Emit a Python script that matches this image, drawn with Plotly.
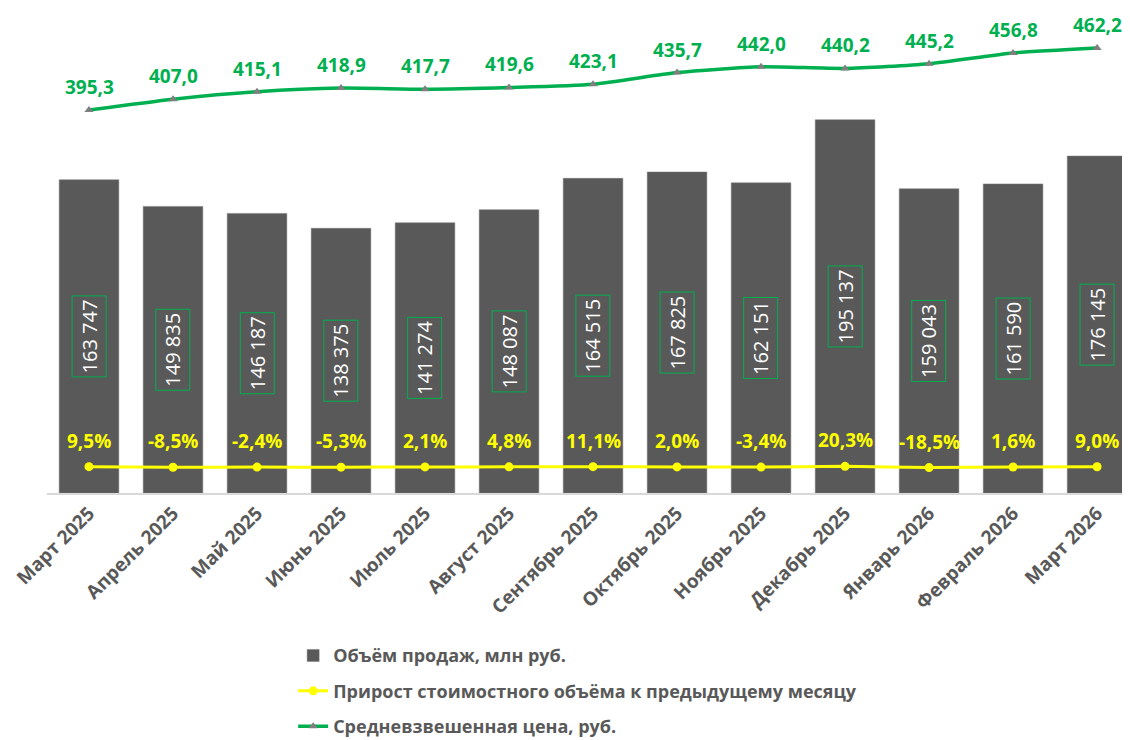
import plotly.graph_objects as go

months = ["Март 2025", "Апрель 2025", "Май 2025", "Июнь 2025", "Июль 2025", "Август 2025",
          "Сентябрь 2025", "Октябрь 2025", "Ноябрь 2025", "Декабрь 2025", "Январь 2026",
          "Февраль 2026", "Март 2026"]
sales = [163747, 149835, 146187, 138375, 141274, 148087, 164515, 167825, 162151, 195137,
         159043, 161590, 176145]
growth = [9.5, -8.5, -2.4, -5.3, 2.1, 4.8, 11.1, 2.0, -3.4, 20.3, -18.5, 1.6, 9.0]
price = [395.3, 407.0, 415.1, 418.9, 417.7, 419.6, 423.1, 435.7, 442.0, 440.2, 445.2, 456.8, 462.2]

FONT = "Open Sans"
GRAY = "#595959"
GREEN = "#00b050"
YELLOW = "#ffff00"

def fmt_int(v):
    return f"{v:,}".replace(",", " ")

def fmt_dec(v, suffix=""):
    return f"{v:.1f}".replace(".", ",") + suffix

fig = go.Figure()
fig.add_trace(go.Bar(
    x=months, y=sales, name="Объём продаж, млн руб.",
    marker=dict(color=GRAY, line=dict(color="#7a7a7a", width=0.5)),
    yaxis="y", legendgroup="a",
))
fig.add_trace(go.Scatter(
    x=months, y=[g / 100 for g in growth], name="Прирост стоимостного объёма к предыдущему месяцу",
    mode="lines+markers", line=dict(color=YELLOW, width=3, shape="spline", smoothing=0.5),
    marker=dict(symbol="circle", size=9, color=YELLOW),
    yaxis="y2", legendgroup="b",
))
fig.add_trace(go.Scatter(
    x=months, y=price, name="Средневзвешенная цена, руб.",
    mode="lines+markers", line=dict(color=GREEN, width=3.5, shape="spline", smoothing=0.6),
    marker=dict(symbol="triangle-up", size=8, color="#7f7f7f"),
    yaxis="y3", legendgroup="c",
))

annotations = []
for m, v in zip(months, sales):
    annotations.append(dict(
        x=m, y=v / 2, xref="x", yref="y", text=fmt_int(v), showarrow=False,
        textangle=-90, font=dict(family=FONT, size=20, color="white"),
        bordercolor=GREEN, borderwidth=1, borderpad=3,
    ))
for m, g in zip(months, growth):
    annotations.append(dict(
        x=m, y=g / 100, xref="x", yref="y2", text=fmt_dec(g, "%"), showarrow=False,
        yshift=26, font=dict(family=FONT, size=19, color=YELLOW, weight="bold"),
    ))
for m, p in zip(months, price):
    annotations.append(dict(
        x=m, y=p, xref="x", yref="y3", text=fmt_dec(p), showarrow=False,
        yshift=23, font=dict(family=FONT, size=19, color=GREEN, weight="bold"),
    ))

# page body has an 8px margin, so the figure is 8px smaller than the window
fig.update_layout(
    width=1122, height=732,
    margin=dict(l=39, r=1, t=12, b=247, autoexpand=False),
    paper_bgcolor="white", plot_bgcolor="white",
    bargap=0.29,
    showlegend=True,
    legend=dict(
        x=0.2275, y=-0.305, xanchor="left", yanchor="top",
        orientation="v", traceorder="grouped", tracegroupgap=9,
        font=dict(family=FONT, size=18, color=GRAY, weight="bold"),
        bgcolor="rgba(0,0,0,0)",
    ),
    xaxis=dict(
        type="category", range=[-0.5, 12.38], tickangle=-45, automargin=False,
        tickfont=dict(family=FONT, size=19, color=GRAY, weight="bold"),
        showline=True, linecolor="#d9d9d9", linewidth=1.5, showgrid=False, ticks="",
    ),
    yaxis=dict(range=[0, 247285], visible=False, showgrid=False, automargin=False),
    yaxis2=dict(range=[-7.8, 134.1], overlaying="y", visible=False, showgrid=False),
    yaxis3=dict(range=[-17.96, 492.4], overlaying="y", visible=False, showgrid=False),
    annotations=annotations,
)

fig.write_html("out.html")
